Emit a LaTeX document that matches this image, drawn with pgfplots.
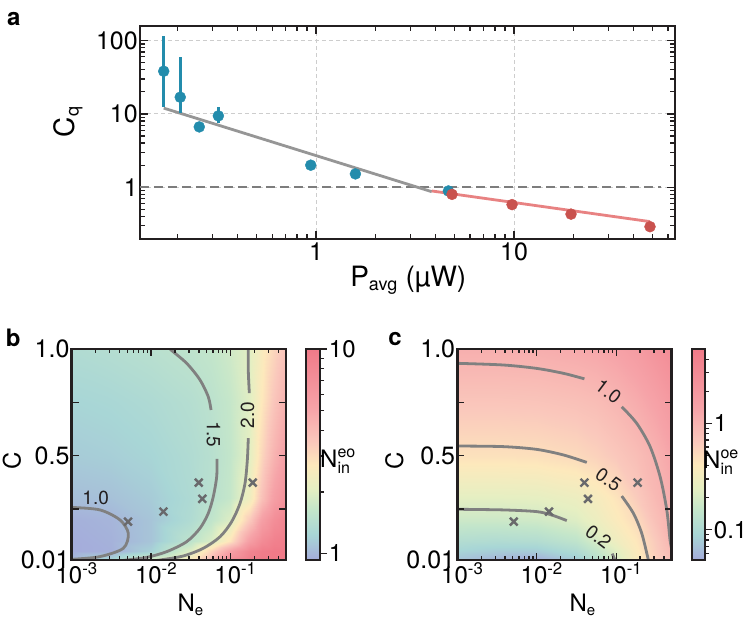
\documentclass[border=0pt]{standalone}
\usepackage{pgfplots}
\pgfplotsset{compat=1.18}
\usepackage{fontspec}
\setmainfont{TeX Gyre Heros}
\setsansfont{TeX Gyre Heros}
\newcommand\fs[1]{\fontsize{#1}{#1}\selectfont}
\definecolor{cblue}{RGB}{35,140,172}
\definecolor{cred}{RGB}{201,82,78}
\definecolor{cpink}{RGB}{232,130,130}
\definecolor{cgray}{RGB}{150,150,150}
\definecolor{cdash}{RGB}{125,125,125}
\definecolor{cgrid}{RGB}{205,205,205}
\definecolor{ccont}{RGB}{128,128,128}
\definecolor{ccross}{RGB}{105,105,108}
\definecolor{cframe}{RGB}{35,31,32}
\pgfplotsset{
  colormap={nat}{rgb255(0pt)=(165,172,219); rgb255(12pt)=(168,214,214); rgb255(24pt)=(196,230,202); rgb255(34pt)=(230,239,194); rgb255(45pt)=(253,233,188); rgb255(56pt)=(250,200,188); rgb255(72pt)=(246,163,168); rgb255(100pt)=(240,122,136)},
  every axis/.append style={
    /pgf/number format/assume math mode=true,
    axis line style={line width=2.6pt, cframe},
    every tick/.style={line width=1.3pt, cframe},
    tick label style={font=\fs{24}},
  },
}
\begin{document}
\begin{tikzpicture}
\path[use as bounding box] (0pt,0pt) rectangle (747pt,630pt);

% ---------------- panel a ----------------
\begin{axis}[
  at={(140pt,391pt)}, anchor=south west, scale only axis,
  width=535pt, height=213pt,
  xmode=log, ymode=log,
  xmin=0.129, xmax=65, ymin=0.197, ymax=158,
  xtick={1,10}, xticklabels={1,10},
  ytick={1,10,100}, yticklabels={1,10,100},
  minor xtick={0.2,0.3,0.4,0.5,0.6,0.7,0.8,0.9,2,3,4,5,6,7,8,9,20,30,40,50,60},
  minor ytick={0.2,0.3,0.4,0.5,0.6,0.7,0.8,0.9,2,3,4,5,6,7,8,9,20,30,40,50,60,70,80,90},
  tick align=inside, xtick pos=both, ytick pos=both,
  major tick length=8pt, minor tick length=5pt,
  xmajorgrids, ymajorgrids,
  major grid style={cgrid, line width=1pt, dash pattern=on 4pt off 3pt},
  xticklabel style={font=\fs{25}, inner sep=2pt, yshift=-2pt},
  yticklabel style={font=\fs{25}, inner sep=2pt},
  xlabel={P$_{\mbox{\fs{18}avg}}$ (µW)},
  ylabel={C$_{\mbox{\fs{18}q}}$},
  label style={font=\fs{28}},
  xlabel style={at={(axis description cs:0.5015,-0.224)}, anchor=base},
  ylabel style={at={(axis description cs:-0.1215,0.551)}, anchor=base},
]
\addplot[cdash, line width=2.4pt, dash pattern=on 9pt off 5pt] coordinates {(0.129,1) (55,1)};
\addplot[cgray, line width=2.8pt] coordinates {(0.170,12.0) (3.84,0.87)};
\addplot[cpink, line width=2.8pt] coordinates {(3.84,0.89) (48.6,0.34)};
\addplot[cblue, only marks, mark=*, mark size=5.5pt, mark options={draw=none, fill=cblue},
  error bars/.cd, y dir=both, y explicit, error mark=none,
  error bar style={line width=2.6pt, cblue}]
  coordinates {
   (0.170,38.2) += (0,77.8) -= (0,25.6)
   (0.206,16.9) += (0,43.6) -= (0,6.5)
   (0.257,6.65) += (0,0.95) -= (0,0.85)
   (0.321,9.4) += (0,2.9) -= (0,1.9)
   (0.94,2.0) += (0,0.1) -= (0,0.1)
   (1.58,1.52) += (0,0.05) -= (0,0.05)
   (4.66,0.89) += (0,0.03) -= (0,0.03)
  };
\addplot[cred, only marks, mark=*, mark size=5.5pt, mark options={draw=none, fill=cred}]
  coordinates {(4.86,0.80) (9.77,0.58) (19.4,0.43) (48.6,0.29)};
\end{axis}

% ---------------- panel b ----------------
\begin{axis}[
  at={(71.7pt,70pt)}, anchor=south west, scale only axis,
  width=214.3pt, height=211pt,
  xmin=-3, xmax=-0.301, ymin=0.01, ymax=1,
  axis on top,
  xtick={-3,-2,-1}, xticklabels={10\textsuperscript{-3},10\textsuperscript{-2},10\textsuperscript{-1}},
  minor xtick={-2.699,-2.523,-2.398,-2.301,-2.222,-2.155,-2.097,-2.046,-1.699,-1.523,-1.398,-1.301,-1.222,-1.155,-1.097,-1.046,-0.699,-0.523,-0.398},
  ytick={0.01,0.25,0.5,0.75,1}, yticklabels={0.01,,0.5,,1.0},
  tick align=inside, xtick pos=both, ytick pos=both,
  major tick length=7pt, minor tick length=4pt,
  xticklabel style={font=\fs{24}, xshift=5pt, inner sep=2pt},
  yticklabel style={font=\fs{25}, inner sep=2pt},
  colormap name=nat, point meta min=-0.032, point meta max=1,
  colorbar,
  colorbar style={
    at={(parent axis.north east)}, anchor=north west, xshift=11.7pt,
    scale only axis, width=14pt, height=211pt,
    ytick={0,1}, yticklabels={1,10},
    minor ytick={0.301,0.477,0.602,0.699,0.778,0.845,0.903,0.954},
    ytick pos=right, yticklabel pos=right, tick align=outside,
    major tick length=7pt, minor tick length=4pt,
    yticklabel style={font=\fs{24}, inner sep=1.5pt},
    axis line style={line width=2.4pt, cframe},
  },
  xlabel={N$_{\mbox{\fs{15}e}}$},
  ylabel={C},
  label style={font=\fs{24}},
  xlabel style={at={(axis description cs:0.555,-0.245)}, anchor=base},
  ylabel style={at={(axis description cs:-0.238,0.47)}, anchor=base},
]
\addplot[surf, shader=interp, mesh/cols=10, point meta=explicit]
 table[x=x, y=y, meta=z, row sep=\\] {
x y z\\
-3 0.01 0.0\\ -2.5 0.01 0.10\\ -2 0.01 0.28\\ -1.5 0.01 0.42\\ -1.25 0.01 0.62\\ -1 0.01 0.85\\ -0.75 0.01 0.98\\ -0.6 0.01 1.0\\ -0.45 0.01 1.0\\ -0.301 0.01 1.0\\
-3 0.05 -0.03\\ -2.5 0.05 -0.02\\ -2 0.05 0.08\\ -1.5 0.05 0.30\\ -1.25 0.05 0.50\\ -1 0.05 0.72\\ -0.75 0.05 0.92\\ -0.6 0.05 0.98\\ -0.45 0.05 1.0\\ -0.301 0.05 1.0\\
-3 0.1 -0.03\\ -2.5 0.1 -0.015\\ -2 0.1 0.04\\ -1.5 0.1 0.19\\ -1.25 0.1 0.28\\ -1 0.1 0.45\\ -0.75 0.1 0.75\\ -0.6 0.1 0.88\\ -0.45 0.1 0.95\\ -0.301 0.1 0.98\\
-3 0.2 -0.02\\ -2.5 0.2 -0.006\\ -2 0.2 0.04\\ -1.5 0.2 0.13\\ -1.25 0.2 0.20\\ -1 0.2 0.29\\ -0.75 0.2 0.55\\ -0.6 0.2 0.74\\ -0.45 0.2 0.86\\ -0.301 0.2 0.93\\
-3 0.3 0.02\\ -2.5 0.3 0.03\\ -2 0.3 0.06\\ -1.5 0.3 0.12\\ -1.25 0.3 0.165\\ -1 0.3 0.22\\ -0.75 0.3 0.37\\ -0.6 0.3 0.58\\ -0.45 0.3 0.74\\ -0.301 0.3 0.84\\
-3 0.5 0.06\\ -2.5 0.5 0.07\\ -2 0.5 0.09\\ -1.5 0.5 0.13\\ -1.25 0.5 0.16\\ -1 0.5 0.21\\ -0.75 0.5 0.32\\ -0.6 0.5 0.50\\ -0.45 0.5 0.64\\ -0.301 0.5 0.74\\
-3 0.75 0.09\\ -2.5 0.75 0.10\\ -2 0.75 0.12\\ -1.5 0.75 0.15\\ -1.25 0.75 0.178\\ -1 0.75 0.22\\ -0.75 0.75 0.305\\ -0.6 0.75 0.44\\ -0.45 0.75 0.56\\ -0.301 0.75 0.65\\
-3 1.0 0.13\\ -2.5 1.0 0.145\\ -2 1.0 0.165\\ -1.5 1.0 0.19\\ -1.25 1.0 0.21\\ -1 1.0 0.25\\ -0.75 1.0 0.31\\ -0.6 1.0 0.41\\ -0.45 1.0 0.50\\ -0.301 1.0 0.57\\
};
\addplot[ccont, line width=2.8pt, smooth] coordinates {(-3.05,0.258) (-3,0.257) (-2.644,0.245) (-2.392,0.198) (-2.287,0.135) (-2.350,0.065) (-2.644,0.026) (-3,0.013) (-3.05,0.012)};
\addplot[ccont, line width=2.8pt, smooth] coordinates {(-1.80,1.02) (-1.762,1.0) (-1.552,0.933) (-1.384,0.855) (-1.280,0.776) (-1.245,0.714)};
\addplot[ccont, line width=2.8pt, smooth] coordinates {(-1.170,0.485) (-1.174,0.401) (-1.217,0.307) (-1.280,0.229) (-1.384,0.159) (-1.552,0.096) (-1.804,0.049) (-2.055,0.0225) (-2.307,0.01) (-2.4,0.006)};
\addplot[ccont, line width=2.8pt, smooth] coordinates {(-0.776,1.02) (-0.776,0.901) (-0.763,0.793)};
\addplot[ccont, line width=2.8pt, smooth] coordinates {(-0.776,0.582) (-0.788,0.479) (-0.817,0.370) (-0.880,0.276) (-0.985,0.190) (-1.132,0.119) (-1.343,0.065) (-1.594,0.029) (-1.888,0.01) (-2.0,0.005)};
\addplot[ccross, only marks, mark=x, mark size=5.5pt, mark options={line width=2.4pt}]
  coordinates {(-2.29,0.19) (-1.845,0.237) (-1.40,0.373) (-1.355,0.297) (-0.72,0.373)};
\node[font=\fs{19}, text=cframe, inner sep=0] at (axis cs:-2.698,0.30) {1.0};
\node[font=\fs{19}, text=cframe, inner sep=0, rotate=-90] at (axis cs:-1.215,0.60) {1.5};
\node[font=\fs{19}, text=cframe, inner sep=0, rotate=90] at (axis cs:-0.785,0.69) {2.0};
\end{axis}

% ---------------- panel c ----------------
\begin{axis}[
  at={(457.3pt,70pt)}, anchor=south west, scale only axis,
  width=214.4pt, height=211pt,
  xmin=-3, xmax=-0.301, ymin=0.01, ymax=1,
  axis on top,
  xtick={-3,-2,-1}, xticklabels={10\textsuperscript{-3},10\textsuperscript{-2},10\textsuperscript{-1}},
  minor xtick={-2.699,-2.523,-2.398,-2.301,-2.222,-2.155,-2.097,-2.046,-1.699,-1.523,-1.398,-1.301,-1.222,-1.155,-1.097,-1.046,-0.699,-0.523,-0.398},
  ytick={0.01,0.25,0.5,0.75,1}, yticklabels={0.01,,0.5,,1.0},
  tick align=inside, xtick pos=both, ytick pos=both,
  major tick length=7pt, minor tick length=4pt,
  xticklabel style={font=\fs{24}, xshift=5pt, inner sep=2pt},
  yticklabel style={font=\fs{25}, inner sep=2pt},
  colormap name=nat, point meta min=-1.284, point meta max=0.699,
  colorbar,
  colorbar style={
    at={(parent axis.north east)}, anchor=north west, xshift=11.6pt,
    scale only axis, width=13.4pt, height=211pt,
    ytick={-1,0}, yticklabels={0.1,1},
    minor ytick={-1.222,-1.155,-1.097,-1.046,-0.699,-0.523,-0.398,-0.301,-0.222,-0.155,-0.097,-0.046,0.301,0.477,0.602},
    ytick pos=right, yticklabel pos=right, tick align=outside,
    major tick length=7pt, minor tick length=4pt,
    yticklabel style={font=\fs{24}, inner sep=1.5pt},
    axis line style={line width=2.4pt, cframe},
  },
  xlabel={N$_{\mbox{\fs{15}e}}$},
  ylabel={C},
  label style={font=\fs{24}},
  xlabel style={at={(axis description cs:0.585,-0.245)}, anchor=base},
  ylabel style={at={(axis description cs:-0.253,0.47)}, anchor=base},
]
\addplot[surf, shader=interp, mesh/cols=9, point meta=explicit]
 table[x=x, y=y, meta=z, row sep=\\] {
x y z\\
-3 0.01 -1.15\\ -2.5 0.01 -1.24\\ -2 0.01 -1.28\\ -1.5 0.01 -1.12\\ -1.25 0.01 -0.92\\ -1 0.01 -0.71\\ -0.75 0.01 -0.45\\ -0.5 0.01 -0.22\\ -0.301 0.01 -0.08\\
-3 0.05 -1.05\\ -2.5 0.05 -1.10\\ -2 0.05 -1.10\\ -1.5 0.05 -0.98\\ -1.25 0.05 -0.82\\ -1 0.05 -0.64\\ -0.75 0.05 -0.42\\ -0.5 0.05 -0.20\\ -0.301 0.05 -0.04\\
-3 0.1 -0.95\\ -2.5 0.1 -0.97\\ -2 0.1 -0.95\\ -1.5 0.1 -0.85\\ -1.25 0.1 -0.70\\ -1 0.1 -0.53\\ -0.75 0.1 -0.38\\ -0.5 0.1 -0.18\\ -0.301 0.1 0.0\\
-3 0.2 -0.76\\ -2.5 0.2 -0.76\\ -2 0.2 -0.74\\ -1.5 0.2 -0.66\\ -1.25 0.2 -0.55\\ -1 0.2 -0.42\\ -0.75 0.2 -0.30\\ -0.5 0.2 -0.10\\ -0.301 0.2 0.02\\
-3 0.3 -0.62\\ -2.5 0.3 -0.62\\ -2 0.3 -0.61\\ -1.5 0.3 -0.55\\ -1.25 0.3 -0.47\\ -1 0.3 -0.36\\ -0.75 0.3 -0.20\\ -0.5 0.3 -0.04\\ -0.301 0.3 0.06\\
-3 0.5 -0.34\\ -2.5 0.5 -0.34\\ -2 0.5 -0.33\\ -1.5 0.5 -0.29\\ -1.25 0.5 -0.24\\ -1 0.5 -0.17\\ -0.75 0.5 -0.09\\ -0.5 0.5 0.015\\ -0.301 0.5 0.13\\
-3 0.75 -0.15\\ -2.5 0.75 -0.15\\ -2 0.75 -0.14\\ -1.5 0.75 -0.11\\ -1.25 0.75 -0.08\\ -1 0.75 -0.02\\ -0.75 0.75 0.06\\ -0.5 0.75 0.17\\ -0.301 0.75 0.28\\
-3 1.0 0.04\\ -2.5 1.0 0.04\\ -2 1.0 0.05\\ -1.5 1.0 0.08\\ -1.25 1.0 0.11\\ -1 1.0 0.16\\ -0.75 1.0 0.24\\ -0.5 1.0 0.36\\ -0.301 1.0 0.45\\
};
\addplot[ccont, line width=2.8pt, smooth] coordinates {(-3.05,0.934) (-3,0.933) (-2.421,0.925) (-2.0,0.909) (-1.665,0.886) (-1.40,0.860)};
\addplot[ccont, line width=2.8pt, smooth] coordinates {(-0.930,0.729) (-0.741,0.651) (-0.573,0.542) (-0.447,0.401) (-0.363,0.245) (-0.322,0.104) (-0.30,0.06)};
\addplot[ccont, line width=2.8pt, smooth] coordinates {(-3.05,0.546) (-3,0.545) (-2.421,0.542) (-2.0,0.529) (-1.665,0.503) (-1.37,0.468)};
\addplot[ccont, line width=2.8pt, smooth] coordinates {(-0.930,0.310) (-0.783,0.229) (-0.678,0.135) (-0.594,0.01) (-0.58,0.0)};
\addplot[ccont, line width=2.8pt, smooth] coordinates {(-3.05,0.248) (-3,0.248) (-2.421,0.245) (-2.0,0.237) (-1.811,0.221) (-1.622,0.195)};
\addplot[ccont, line width=2.8pt, smooth] coordinates {(-1.050,0.040) (-1.015,0.01) (-1.0,0.0)};
\addplot[ccross, only marks, mark=x, mark size=5.5pt, mark options={line width=2.4pt}]
  coordinates {(-2.29,0.19) (-1.845,0.237) (-1.40,0.373) (-1.355,0.297) (-0.73,0.373)};
\node[font=\fs{19}, text=cframe, inner sep=0, rotate=-37] at (axis cs:-1.098,0.80) {1.0};
\node[font=\fs{19}, text=cframe, inner sep=0, rotate=-35] at (axis cs:-1.098,0.385) {0.5};
\node[font=\fs{19}, text=cframe, inner sep=0, rotate=-37] at (axis cs:-1.224,0.119) {0.2};
\end{axis}

% colour bar labels and panel letters
\node[anchor=base west, inner sep=0, font=\fs{24}] at (320pt,163pt) {N$^{\mbox{\fs{16}eo}}_{\mbox{\fs{16}in}}$};
\node[anchor=base west, inner sep=0, font=\fs{24}] at (703pt,162pt) {N$^{\mbox{\fs{16}oe}}_{\mbox{\fs{16}in}}$};
\node[font=\bfseries\fs{24}, inner sep=0] at (13.7pt,611pt) {a};
\node[font=\bfseries\fs{24}, inner sep=0] at (13.3pt,292pt) {b};
\node[font=\bfseries\fs{24}, inner sep=0] at (395pt,291pt) {c};
\end{tikzpicture}
\end{document}
